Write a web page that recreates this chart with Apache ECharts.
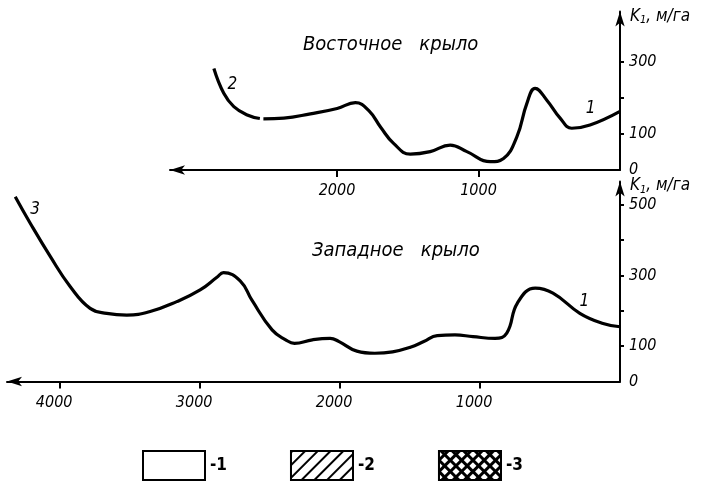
<!DOCTYPE html>
<html><head><meta charset="utf-8">
<script src="https://cdn.jsdelivr.net/npm/echarts@6/dist/echarts.min.js"></script>
<style>html,body{margin:0;padding:0;background:#fff}#c{width:701px;height:486px}</style>
</head><body><div id="c"></div>
<script>
// Восточное крыло (top panel): distance, m  /  K1, м/га
const eastDistance = [2870, 2800, 2729, 2634, 2545, 2535, 2520, 2376, 2188, 1999, 1870, 1775, 1690, 1600, 1482, 1341, 1200, 1082, 917, 823, 729, 658, 600, 517, 423, 341, 212, 0];
const eastK        = [282,  213,  176,  153,  143,  null, 142,  144,  156,  171,  187,  165,  118,  74,   44,   51,   69,   51,   23,  32,  92,  185, 227, 194, 144, 116, 125, 163];
// Западное крыло (bottom panel)
const westDistance = [4321, 4214, 4071, 3929, 3786, 3667, 3524, 3357, 3167, 3000, 2880, 2833, 2714, 2630, 2486, 2389, 2326, 2198, 2071, 2007, 1880, 1752, 1625, 1498, 1402, 1306, 1179, 1051, 893, 809, 733, 606, 479, 287, 128, 0];
const westK        = [523,  448,  354,  269,  207,  193,  188,  198,  226,  259,  295,  308,  285,  230,  146,  118,  108,  118,  122,  113,  86,   80,   84,   97,   113,  130,  132,  127,  122, 137, 222, 264, 250, 193, 165, 155];
// tick labels
const eastXLabels = [1000, 2000];
const westXLabels = [1000, 2000, 3000, 4000];
const eastYLabels = [0, 100, 300];
const eastYTicks  = [100, 200, 300];
const westYLabels = [0, 100, 300, 500];
const westYTicks  = [100, 200, 300, 400, 500];
const legendNames = ['1', '2', '3'];

const FONT = '"Liberation Sans Narrow", "DejaVu Sans Condensed", "Liberation Sans", sans-serif';
const pair = (xs, ys) => xs.map((x, i) => [x, ys[i] == null ? null : ys[i]]);
const plain = v => String(v);

const axisLine = (sym) => ({show: true, onZero: false, lineStyle: {color: '#000', width: 2}, symbol: sym, symbolSize: [7, 15]});
const lblStyle = {color: '#000', fontStyle: 'italic', fontFamily: FONT, fontSize: 16, formatter: plain};
const yName = {
  name: 'K{s|1}, м/га', nameLocation: 'end', nameGap: -14,
  nameTextStyle: {align: 'left', color: '#000', fontStyle: 'italic', fontFamily: FONT, fontSize: 17, padding: [0, 0, 0, 10],
    rich: {s: {fontSize: 11, fontStyle: 'italic', fontFamily: FONT, color: '#000', padding: [8, 0, 0, 0]}}}
};
const curveLabel = {show: true, position: 'inside', color: '#000', fontStyle: 'italic', fontFamily: FONT, fontSize: 17};

const chart = echarts.init(document.getElementById('c'), null, {renderer: 'canvas'});
chart.setOption({
  animation: false,
  backgroundColor: '#fff',
  title: [
    {text: 'Восточное   крыло', left: 298, top: 30, textStyle: {color: '#000', fontStyle: 'italic', fontWeight: 'normal', fontFamily: FONT, fontSize: 20}},
    {text: 'Западное   крыло', left: 307, top: 236, textStyle: {color: '#000', fontStyle: 'italic', fontWeight: 'normal', fontFamily: FONT, fontSize: 20}}
  ],
  grid: [
    {left: 170, right: 81, top: 11.6, bottom: 316},
    {left: 7, right: 81, top: 181.5, bottom: 104.5}
  ],
  xAxis: [
    {gridIndex: 0, type: 'value', inverse: true, min: 0, max: 3180, interval: 1000,
      axisLine: axisLine(['arrow', 'none']), splitLine: {show: false},
      axisTick: {show: true, customValues: eastXLabels, length: 7, lineStyle: {color: '#000', width: 2}},
      axisLabel: Object.assign({customValues: eastXLabels, margin: 13}, lblStyle)},
    {gridIndex: 1, type: 'value', inverse: true, min: 0, max: 4380, interval: 1000,
      axisLine: axisLine(['arrow', 'none']), splitLine: {show: false},
      axisTick: {show: true, customValues: westXLabels, length: 7, lineStyle: {color: '#000', width: 2}},
      axisLabel: Object.assign({customValues: westXLabels, margin: 13, padding: [0, 12, 0, 0]}, lblStyle)}
  ],
  yAxis: [
    Object.assign({gridIndex: 0, type: 'value', position: 'right', min: 0, max: 440, interval: 100,
      axisLine: axisLine(['none', 'arrow']), splitLine: {show: false},
      axisTick: {show: true, customValues: eastYTicks, length: 4, lineStyle: {color: '#000', width: 2}},
      axisLabel: Object.assign({customValues: eastYLabels, margin: 9, align: 'left'}, lblStyle)}, yName),
    Object.assign({gridIndex: 1, type: 'value', position: 'right', min: 0, max: 566, interval: 100,
      axisLine: axisLine(['none', 'arrow']), splitLine: {show: false},
      axisTick: {show: true, customValues: westYTicks, length: 4, lineStyle: {color: '#000', width: 2}},
      axisLabel: Object.assign({customValues: westYLabels, margin: 9, align: 'left'}, lblStyle)}, yName)
  ],
  legend: {
    left: 137, top: 445, itemWidth: 62, itemHeight: 29, itemGap: 63, selectedMode: false,
    icon: 'rect', data: legendNames,
    formatter: '-{name}',
    itemStyle: {borderColor: '#000', borderWidth: 2},
    textStyle: {color: '#000', fontFamily: FONT, fontSize: 17, fontWeight: 'bold'}
  },
  series: [
    {type: 'line', xAxisIndex: 0, yAxisIndex: 0, data: pair(eastDistance, eastK), smooth: 0.45, showSymbol: false,
      connectNulls: false, lineStyle: {color: '#000', width: 3.2}, silent: true,
      markPoint: {symbol: 'circle', symbolSize: 1, itemStyle: {color: 'rgba(0,0,0,0)'}, label: curveLabel,
        data: [{coord: [2740, 236], value: '2'}, {coord: [207, 171], value: '1'}]}},
    {type: 'line', xAxisIndex: 1, yAxisIndex: 1, data: pair(westDistance, westK), smooth: 0.45, showSymbol: false,
      lineStyle: {color: '#000', width: 3.2}, silent: true,
      markPoint: {symbol: 'circle', symbolSize: 1, itemStyle: {color: 'rgba(0,0,0,0)'}, label: curveLabel,
        data: [{coord: [4179, 486], value: '3'}, {coord: [255, 226], value: '1'}]}},
    {type: 'bar', name: '1', xAxisIndex: 1, yAxisIndex: 1, data: [],
      itemStyle: {color: '#fff', borderColor: '#000', borderWidth: 2}},
    {type: 'bar', name: '2', xAxisIndex: 1, yAxisIndex: 1, data: [],
      itemStyle: {color: '#fff', borderColor: '#000', borderWidth: 2,
        decal: {symbol: 'rect', symbolSize: 1, color: '#000', backgroundColor: '#fff', dashArrayX: [1, 0], dashArrayY: [1.5, 7], rotation: -Math.PI / 4}}},
    {type: 'bar', name: '3', xAxisIndex: 1, yAxisIndex: 1, data: [],
      itemStyle: {color: '#000', borderColor: '#000', borderWidth: 2,
        decal: {symbol: 'rect', symbolSize: 1, color: '#fff', backgroundColor: '#000', dashArrayX: [5, 2.5], dashArrayY: [5, 2.5], rotation: Math.PI / 4}}}
  ]
});
</script>
</body></html>
